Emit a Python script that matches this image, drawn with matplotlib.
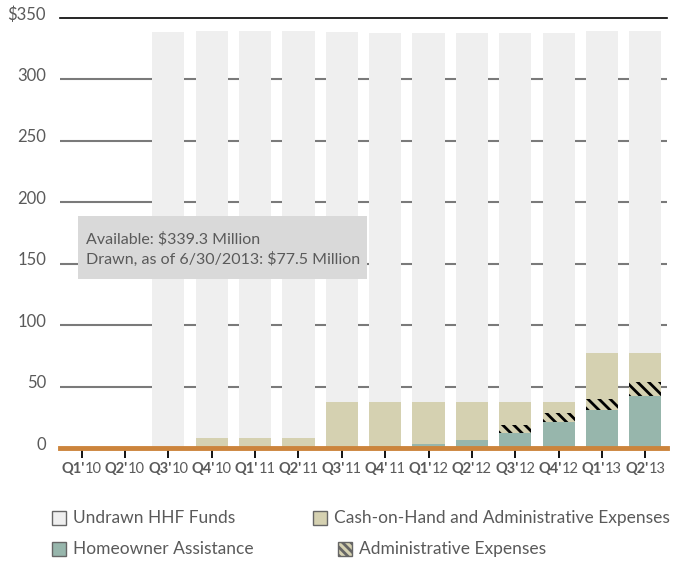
import numpy as np
import matplotlib
matplotlib.use("Agg")
from matplotlib import pyplot as plt
from matplotlib.patches import Rectangle
from matplotlib.offsetbox import TextArea, HPacker, AnnotationBbox
from matplotlib.transforms import ScaledTranslation

plt.rcParams["font.family"] = ["Lato", "DejaVu Sans"]
plt.rcParams["hatch.linewidth"] = 2.0

quarters = ["Q1'", "Q2'", "Q3'", "Q4'", "Q1'", "Q2'", "Q3'", "Q4'", "Q1'", "Q2'", "Q3'", "Q4'", "Q1'", "Q2'"]
years = ["10", "10", "10", "10", "11", "11", "11", "11", "12", "12", "12", "12", "13", "13"]
available = [0, 0, 338.5, 339.3, 339.3, 339.3, 338.6, 338, 338, 338, 338, 338, 339.3, 339.3]
drawn = [0, 0, 0, 8, 8, 8, 37.6, 37.6, 37.6, 37.6, 37.6, 37.6, 77.5, 77.5]
homeowner = [0, 0, 0, 0, 0, 0, 0, 1.5, 3.5, 6.7, 12, 21.3, 31, 42.6]
admin = [0, 0, 0, 0, 0, 0, 0, 0, 0, 0, 6.5, 7.3, 9, 10.8]
yticks = [0, 50, 100, 150, 200, 250, 300, 350]
ytick_labels = ["0", "50", "100", "150", "200", "250", "300", "$350"]

grey = "#efefef"
tan = "#d5d1b1"
green = "#97b6ac"
orange = "#cc843c"
text_grey = "#5a5a5a"

x = np.arange(len(quarters))
available = np.array(available)
drawn = np.array(drawn)
homeowner = np.array(homeowner)
admin = np.array(admin)
cash = drawn - homeowner - admin
undrawn = available - drawn

fig = plt.figure(figsize=(6.85, 5.62), dpi=100)
ax = fig.add_axes([60 / 685, 1 - 448 / 562, 607 / 685, 430 / 562])

# gridlines behind bars
for y in yticks[1:-1]:
    ax.axhline(y, color="#7a7a7a", lw=1.5, zorder=0)
ax.axhline(350, color="black", lw=1.2, zorder=0, clip_on=False)

w = 0.74
ax.bar(x, homeowner, w, color=green, zorder=2, lw=0)
ax.bar(x, admin, w, bottom=homeowner, facecolor=tan, edgecolor="black",
       hatch="\\\\\\", lw=0, zorder=2)
ax.bar(x, cash, w, bottom=homeowner + admin, color=tan, zorder=2, lw=0)
ax.bar(x, undrawn, w, bottom=drawn, color=grey, zorder=2, lw=0)

ax.axhline(0, color=orange, lw=3.5, zorder=3, clip_on=False)

ax.set_xlim(-0.5, len(x) - 0.5)
ax.set_ylim(0, 350)
for s in ax.spines.values():
    s.set_visible(False)

ax.set_yticks(yticks)
ax.set_yticklabels(ytick_labels)
ax.tick_params(axis="y", length=0, pad=10, labelsize=12, labelcolor=text_grey)
off = ScaledTranslation(0, 5 / 100, fig.dpi_scale_trans)
for lab in ax.get_yticklabels():
    lab.set_transform(lab.get_transform() + off)

ax.set_xticks(x)
ax.set_xticklabels([])
ax.tick_params(axis="x", length=7, width=1.3, color="black", direction="out", pad=3)

for xi, q, yr in zip(x, quarters, years):
    box = HPacker(children=[
        TextArea(q, textprops=dict(fontsize=10.5, fontweight="bold", color=text_grey)),
        TextArea(yr, textprops=dict(fontsize=10.5, color=text_grey)),
    ], pad=0, sep=0)
    ab = AnnotationBbox(box, (xi, 0), xycoords=("data", "axes fraction"),
                        xybox=(0, -15), boxcoords="offset points",
                        frameon=False, box_alignment=(0.5, 0.5))
    ax.add_artist(ab)

# info box
ax.add_patch(Rectangle((0.0297, 0.393), 0.476, 0.147, transform=ax.transAxes,
                       facecolor="#d9d9d9", edgecolor="none", zorder=4))
ax.text(0.0428, 0.462, "Available: $339.3 Million\nDrawn, as of 6/30/2013: $77.5 Million",
        transform=ax.transAxes, fontsize=11.5, color=text_grey, va="center",
        linespacing=1.4, zorder=5)

# legend
legend_items = [
    (52, 518, grey, None, "Undrawn HHF Funds"),
    (313, 518, tan, None, "Cash-on-Hand and Administrative Expenses"),
    (52, 549, green, None, "Homeowner Assistance"),
    (338, 549, tan, "\\\\\\\\", "Administrative Expenses"),
]
for px, py, col, hatch, label in legend_items:
    r = Rectangle((px / 685, 1 - (py + 7) / 562), 14 / 685, 14 / 562,
                  transform=fig.transFigure, facecolor=col, edgecolor="#666666",
                  lw=1, hatch=hatch)
    fig.patches.append(r)
    fig.text((px + 21) / 685, 1 - py / 562, label, fontsize=12.5,
             color=text_grey, va="center")

fig.savefig("out.png", dpi=100)
